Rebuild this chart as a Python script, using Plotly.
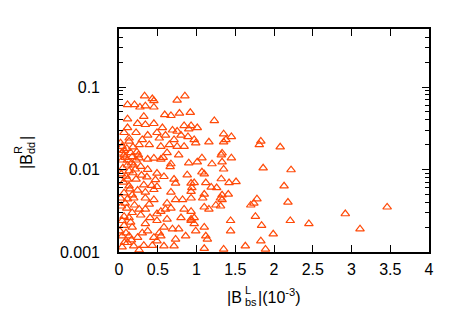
import plotly.graph_objects as go

# |B_bs^L| in units of 1e-3
bs_L = [
    0.33, 0.43, 0.45, 0.75, 0.85, 0.11, 0.20, 0.27, 0.34, 0.45,
    0.32, 0.11, 0.59, 0.67, 0.78, 0.92, 0.24, 0.34, 0.11, 0.45,
    0.56, 0.69, 0.75, 0.84, 0.93, 0.065, 0.22, 0.37, 0.49, 0.60,
    0.80, 0.89, 0.13, 0.30, 0.71, 0.52,
    1.23, 1.01, 0.90, 1.35, 1.45, 1.38, 0.97, 1.16, 1.83,
    0.02, 0.13, 0.26, 0.39, 0.54, 0.65, 0.75, 0.84, 0.77, 0.90,
    0.065, 0.15, 0.065, 0.17, 0.11, 0.22, 0.11, 0.19, 0.28,
    0.37, 0.45, 0.54, 0.67, 0.66, 0.37, 0.49, 0.58, 0.47, 0.88, 0.71, 0.73,
    0.11, 0.22, 0.13, 0.32, 0.34, 0.49, 0.45, 0.67, 0.93, 0.93, 0.065, 0.17,
    0.04, 0.10, 0.18, 0.03, 0.23, 0.04, 0.26, 0.05, 0.13, 0.21, 0.03, 0.09, 0.18,
    0.99, 1.35, 1.81, 1.33, 1.32, 1.07, 1.01, 1.20, 1.45, 1.33,
    1.86, 1.35, 1.07, 1.10, 1.32, 1.42, 1.51, 0.97, 1.12, 1.19,
    1.26, 0.94, 1.10, 1.33, 1.41, 1.78,
    0.02, 0.11, 0.19, 0.34, 0.45, 0.73, 0.82, 0.93, 0.26, 0.34,
    0.17, 0.065, 0.13, 0.49, 0.62, 0.49, 0.84, 0.93, 0.80,
    0.065, 0.17, 0.34, 0.37, 0.58, 0.69, 0.77,
    0.04, 0.13, 0.24, 0.45, 0.54, 0.49, 0.86,
    0.11, 0.19, 0.32, 0.43, 0.58, 0.71, 0.73,
    0.03, 0.10, 0.04, 0.15, 0.01, 0.09, 0.04, 0.26, 0.62, 0.67, 0.39, 0.54,
    1.08, 1.31, 1.33, 1.10, 1.16, 1.25, 1.31, 1.70, 1.74,
    0.93, 0.97, 0.93, 0.97, 1.10, 0.99, 1.12, 1.14,
    1.44, 1.44, 1.76, 1.84, 1.10, 1.35, 1.63, 1.83, 1.89,
    2.08, 2.22, 2.13, 2.18, 2.21, 2.45, 2.92, 3.11, 3.46, 1.99,
    0.08, 0.16, 0.25, 0.06, 0.14, 0.24, 0.08, 0.20, 0.28, 0.07,
    0.16, 0.30, 0.57, 0.62, 0.40, 0.52, 0.60, 0.42, 0.36, 0.29,
]

# |B_dd^R|
dd_R = [
    0.078, 0.072, 0.068, 0.069, 0.078, 0.061, 0.061, 0.057, 0.059, 0.057,
    0.044, 0.041, 0.046, 0.045, 0.048, 0.049, 0.036, 0.035, 0.032, 0.036,
    0.032, 0.030, 0.029, 0.034, 0.034, 0.028, 0.028, 0.026, 0.028, 0.026,
    0.026, 0.025, 0.024, 0.023, 0.023, 0.024,
    0.039, 0.032, 0.031, 0.027, 0.025, 0.023, 0.023, 0.0215, 0.022,
    0.021, 0.022, 0.020, 0.020, 0.019, 0.020, 0.019, 0.019, 0.015, 0.012,
    0.017, 0.016, 0.015, 0.0143, 0.013, 0.013, 0.0113, 0.0113, 0.0109,
    0.0133, 0.0137, 0.0133, 0.0117, 0.0108, 0.0100, 0.0090, 0.0082, 0.0075, 0.0086, 0.0076, 0.0068,
    0.0076, 0.0076, 0.0063, 0.0065, 0.0053, 0.0062, 0.0057, 0.0053, 0.0068, 0.0054, 0.0052, 0.0049,
    0.019, 0.018, 0.0187, 0.0158, 0.0163, 0.013, 0.0138, 0.0104, 0.0096, 0.0101, 0.0088, 0.0083, 0.0091,
    0.021, 0.0215, 0.020, 0.0158, 0.015, 0.0138, 0.0123, 0.0117, 0.0138, 0.0123,
    0.0104, 0.0101, 0.0093, 0.0088, 0.0077, 0.0069, 0.0071, 0.0069, 0.0069, 0.0061,
    0.0060, 0.0060, 0.0050, 0.0049, 0.0050, 0.0044,
    0.0045, 0.0044, 0.0045, 0.0045, 0.0043, 0.0043, 0.0043, 0.0045, 0.0033, 0.0033,
    0.0030, 0.0027, 0.0026, 0.0029, 0.0025, 0.0024, 0.0033, 0.0025, 0.0026,
    0.0021, 0.0020, 0.0022, 0.0018, 0.0020, 0.0019, 0.0019,
    0.00156, 0.00156, 0.0015, 0.0015, 0.00156, 0.00136, 0.00156,
    0.0013, 0.00118, 0.0012, 0.0012, 0.00118, 0.00118, 0.00143,
    0.0036, 0.0034, 0.0024, 0.0023, 0.0018, 0.0017, 0.00115, 0.00106, 0.0039, 0.0034, 0.0038, 0.0031,
    0.0045, 0.0045, 0.0043, 0.0035, 0.0033, 0.0037, 0.0036, 0.0037, 0.0039,
    0.0031, 0.0026, 0.0024, 0.0022, 0.0020, 0.0018, 0.00156, 0.00143,
    0.0024, 0.0018, 0.0027, 0.0021, 0.0011, 0.00108, 0.00118, 0.00136, 0.00108,
    0.0187, 0.0099, 0.0063, 0.0040, 0.0024, 0.0022, 0.0029, 0.0019, 0.0035, 0.00165,
    0.0140, 0.0120, 0.0150, 0.0070, 0.0058, 0.0056, 0.0039, 0.0037, 0.0028, 0.0013,
    0.0014, 0.0017, 0.0140, 0.0160, 0.0026, 0.0017, 0.0033, 0.0064, 0.0081, 0.0085,
]

x_ticks = [0, 0.5, 1, 1.5, 2, 2.5, 3, 3.5, 4]
x_ticktext = ["0", "0.5", "1", "1.5", "2", "2.5", "3", "3.5", "4"]
y_ticks = [0.001, 0.01, 0.1]
y_ticktext = ["0.001", "0.01", "0.1"]
y_minor = [m * 10 ** e for e in (-3, -2, -1) for m in range(2, 10)]

FONT = "Liberation Sans, Arial, Helvetica, sans-serif"
W, H = 450, 315
L, R, T, B = 111, 29, 21, 71
pw, ph = W - L - R, H - T - B

fig = go.Figure()
fig.add_trace(go.Scatter(
    x=bs_L, y=dd_R, mode="markers",
    marker=dict(symbol="triangle-up-open", size=7.5, color="#FF4A08",
                line=dict(width=1.2, color="#FF4A08")),
    showlegend=False, hoverinfo="x+y",
))

axis_common = dict(
    showgrid=False, zeroline=False, showline=True, linecolor="black",
    linewidth=1.6, mirror="ticks", ticks="inside", tickcolor="black",
    tickwidth=1.3, ticklen=7,
    tickfont=dict(family=FONT, size=16, color="black"),
)

fig.update_xaxes(range=[0, 4], tickmode="array", tickvals=x_ticks,
                 ticktext=x_ticktext, ticklabelstandoff=2, **axis_common)
fig.update_yaxes(type="log", range=[-3, -0.297], tickmode="array",
                 tickvals=y_ticks, ticktext=y_ticktext, ticklabelstandoff=14,
                 minor=dict(ticks="inside", ticklen=4, tickwidth=1.2,
                            tickcolor="black", tickmode="array",
                            tickvals=y_minor),
                 **axis_common)


def px2paper(px, py):
    return (px - L) / pw, 1 - (py - T) / ph


anns = []


def add_text(text, px, py, size, xanchor="center", yanchor="middle", angle=0):
    xp, yp = px2paper(px, py)
    anns.append(dict(text=text, x=xp, y=yp, xref="paper", yref="paper",
                     xanchor=xanchor, yanchor=yanchor, showarrow=False,
                     textangle=angle, borderpad=0,
                     font=dict(family=FONT, size=size, color="black")))


# x-axis title: |B^L_bs|(10^-3)
add_text("|B", 235, 289, 16, xanchor="right")
add_text("L", 236, 282, 11, xanchor="left")
add_text("bs", 236, 294, 11, xanchor="left")
add_text("|(10<sup>-3</sup>)", 249, 288, 16, xanchor="left")

# y-axis title: |B^R_dd| (rotated, reading bottom to top)
add_text("|B", 18, 154, 16, angle=-90)
add_text("R", 10, 142, 11, angle=-90)
add_text("dd", 23, 140, 11, angle=-90)
add_text("|", 18, 130, 16, angle=-90)

fig.update_layout(
    width=W, height=H, margin=dict(l=L, r=R, t=T, b=B, autoexpand=False),
    paper_bgcolor="white", plot_bgcolor="white",
    annotations=anns, font=dict(family=FONT),
)

fig.write_html("out.html")
